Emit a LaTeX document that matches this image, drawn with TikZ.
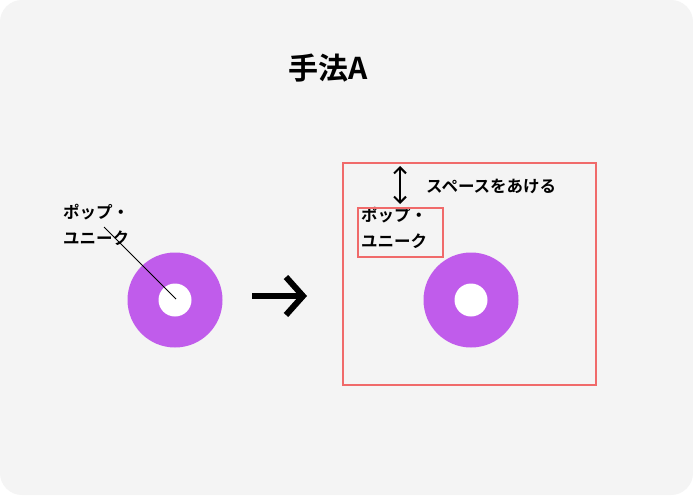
\documentclass[tikz,border=0pt]{standalone}
\usepackage{fontspec}
\newfontfamily\cjk{Noto Sans CJK JP}[BoldFont={Noto Sans CJK JP Bold}]
\usetikzlibrary{arrows.meta}
\definecolor{bg}{HTML}{F4F4F4}
\definecolor{donut}{HTML}{C05CEB}
\definecolor{redb}{HTML}{F06A6A}
\tikzset{lbl/.style={font=\cjk\bfseries\fontsize{16.5}{26}\selectfont, align=left, inner sep=0pt, anchor=north west},
 redbox/.style={draw=redb, line width=2.6pt}}
\begin{document}
\begin{tikzpicture}[x=1pt,y=-1pt]
\useasboundingbox (0,0) rectangle (693,495);
\fill[white] (0,0) rectangle (693,495);
\fill[bg, rounded corners=22pt] (0,0) rectangle (693,495);
\node[font=\cjk\bfseries\fontsize{30}{34}\selectfont] (title) at (328,68) {手法A};
% left
\fill[donut] (175,300) circle (47.5);
\fill[white] (175,300) circle (16.5);
\coordinate (lc) at (176,299);
\node[lbl] (l1) at (63,204) {ポップ・\\ユニーク};
\coordinate (ls) at (104,227);
\draw[black, line width=1pt] (ls) -- (lc);
% arrow
\coordinate (a1) at (252,296);
\coordinate (a2) at (307,296);
\draw[line width=6pt, -{Straight Barb[length=17pt,width=38pt,line width=6pt]}] (a1) -- (a2);
% right
\draw[redbox] (343,163) rectangle (596,385);
\fill[donut] (471,300) circle (47.5);
\fill[white] (471,300) circle (16.5);
\coordinate (d1) at (400,166);
\coordinate (d2) at (400,204);
\draw[line width=2pt, {Straight Barb[length=6pt,width=12pt]}-{Straight Barb[length=6pt,width=12pt]}] (d1) -- (d2);
\node[lbl, anchor=west] (sp) at (426,186) {スペースをあける};
\node[lbl] (l2) at (361,207) {ポップ・\\ユニーク};
\draw[redbox] (358,208) rectangle (443,257);
\end{tikzpicture}
\end{document}
